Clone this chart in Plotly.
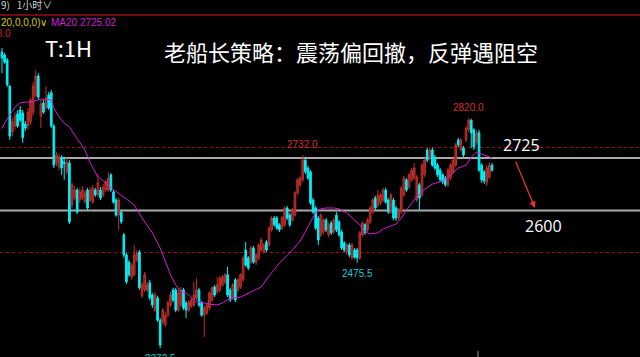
import plotly.graph_objects as go

# ---- data (prices) ----
opens = [2977,2970,2958,2896,2787,2801,2830,2839,2832,2806,2801,2811,2834,2873,2920,2825,2856,2844,2875,2880,
         2801,2713,2704,2727,2715,2692,2713,2613,2630,2649,2625,2630,2620,2649,2625,2620,2649,2637,2649,2637,
         2649,2649,2685,2644,2625,2589,2596,2542,2494,2477,2442,2447,2482,2501,2397,2411,2411,2428,2399,2363,
         2392,2339,2335,2328,2351,2375,2411,2411,2363,2375,2411,2380,2363,2373,2375,2392,2411,2380,2351,2356,
         2368,2387,2418,2406,2411,2423,2430,2447,2411,2392,2435,2411,2418,2435,2506,2487,2477,2511,2477,2487,
         2506,2501,2525,2518,2554,2582,2582,2566,2558,2566,2606,2589,2577,2589,2642,2661,2673,2720,2701,2692,
         2625,2606,2582,2542,2549,2577,2542,2570,2549,2589,2573,2549,2523,2501,2518,2487,2506,2506,2487,2542,
         2566,2554,2573,2596,2630,2613,2618,2625,2649,2625,2596,2625,2606,2582,2596,2637,2673,2656,2673,2677,
         2625,2661,2637,2685,2744,2725,2744,2727,2708,2696,2685,2677,2661,2677,2692,2708,2768,2744,2749,2768,
         2792,2815,2792,2761,2785,2708,2692,2666,2680,2708]
highs = [2987,2975,2963,2899,2820,2834,2839,2849,2839,2813,2844,2868,2906,2934,2927,2863,2863,2896,2882,2887,
         2806,2739,2735,2732,2725,2725,2720,2668,2658,2654,2654,2658,2649,2654,2656,2661,2654,2687,2656,2663,
         2673,2692,2689,2649,2630,2630,2601,2547,2499,2482,2475,2518,2506,2506,2430,2454,2430,2435,2404,2406,
         2397,2344,2368,2358,2387,2406,2416,2416,2416,2418,2416,2385,2387,2392,2430,2439,2416,2385,2373,2380,
         2408,2420,2423,2442,2444,2447,2451,2466,2416,2428,2439,2439,2451,2492,2525,2492,2516,2516,2499,2523,
         2535,2523,2530,2563,2587,2587,2587,2570,2587,2611,2611,2594,2606,2646,2677,2682,2732,2725,2706,2696,
         2630,2611,2587,2594,2582,2582,2570,2575,2582,2596,2577,2554,2527,2523,2523,2523,2511,2511,2551,2575,
         2570,2582,2611,2630,2635,2649,2642,2654,2654,2630,2642,2630,2611,2606,2658,2682,2677,2689,2701,2713,
         2685,2666,2713,2725,2749,2749,2749,2732,2713,2701,2689,2682,2701,2713,2725,2761,2773,2773,2754,2801,
         2820,2818,2796,2792,2792,2713,2696,2708,2715,2713]
lows = [2927,2949,2894,2768,2777,2792,2796,2811,2761,2789,2792,2804,2825,2868,2863,2796,2830,2839,2839,2796,
        2701,2706,2696,2685,2673,2685,2568,2606,2625,2592,2618,2625,2616,2601,2620,2616,2632,2632,2625,2632,
        2644,2644,2644,2616,2585,2554,2568,2487,2425,2442,2435,2442,2477,2411,2392,2406,2406,2387,2368,2358,
        2335,2272.5,2328,2323,2347,2370,2382,2358,2358,2370,2363,2344,2358,2368,2370,2387,2370,2347,2299,2351,
        2363,2382,2394,2401,2406,2418,2425,2394,2382,2387,2382,2406,2413,2430,2466,2458,2473,2473,2470,2482,
        2501,2497,2501,2513,2549,2561,2554,2549,2554,2561,2577,2561,2573,2585,2637,2656,2668,2687,2673,2613,
        2592,2554,2518,2537,2544,2549,2537,2542,2544,2549,2537,2506,2501,2494,2489,2482,2485,2475.5,2482,2537,
        2542,2549,2568,2592,2601,2608,2613,2620,2616,2592,2592,2577,2575,2577,2592,2632,2644,2651,2668,2673,
        2620,2601,2632,2680,2715,2720,2704,2696,2680,2668,2663,2656,2656,2673,2687,2704,2751,2739,2727,2763,
        2787,2749,2744,2756,2692,2666,2663,2658,2675,2692]
closes = [2963,2953,2899,2777,2811,2825,2801,2815,2773,2796,2834,2863,2896,2920,2870,2854,2834,2868,2844,2801,
          2708,2732,2727,2701,2711,2715,2573,2661,2649,2596,2644,2649,2642,2606,2649,2654,2637,2666,2630,2656,
          2668,2677,2649,2620,2589,2625,2573,2494,2430,2447,2470,2494,2499,2416,2423,2447,2423,2392,2375,2399,
          2339,2280,2363,2351,2380,2399,2387,2363,2404,2411,2368,2363,2382,2387,2399,2411,2375,2351,2368,2375,
          2404,2416,2399,2423,2439,2442,2447,2399,2387,2423,2387,2435,2447,2487,2470,2463,2511,2477,2494,2518,
          2530,2518,2506,2558,2582,2566,2558,2554,2582,2606,2582,2566,2601,2642,2673,2677,2720,2692,2677,2618,
          2596,2558,2530,2589,2577,2554,2566,2547,2577,2554,2542,2511,2506,2518,2494,2518,2489,2487,2547,2570,
          2547,2577,2606,2625,2606,2637,2637,2649,2620,2596,2637,2582,2582,2601,2654,2677,2649,2685,2696,2701,
          2680,2630,2708,2720,2720,2744,2708,2701,2685,2673,2668,2661,2696,2708,2720,2756,2756,2768,2732,2796,
          2815,2785,2751,2785,2696,2673,2670,2701,2708,2696]

ma_idx = [0,1,3,5,7,9,11,13,15,17,19,20,22,24,26,28,30,32,34,37,40,43,47,51,54,58,61,63,65,67,69,71,73,75,78,
          80,83,85,87,89,92,96,100,103,107,111,115,118,120,121,123,125,128,130,133,135,138,140,142,145,147,150,
          152,154,156,159,162,166,170,173,176,179,181,183,186,189]
ma_val = [2795,2808,2827,2846,2856,2858,2858,2861,2865,2865,2863,2844,2823,2808,2799,2780,2763,2744,2713,2680,
          2666,2649,2632,2613,2582,2547,2511,2480,2447,2423,2406,2404,2394,2382,2380,2377,2375,2380,2387,2392,
          2394,2406,2418,2444,2475,2499,2527,2561,2585,2596,2604,2606,2606,2604,2594,2582,2566,2549,2544,2547,
          2556,2563,2568,2582,2601,2625,2646,2663,2670,2685,2701,2708,2727,2739,2732,2725.02]

levels = [2725, 2600]
level_labels = ["2725", "2600"]
grid_levels = [2750, 2500]
extreme_idx = [180, 116, 137, 61]
extreme_val = [2820.0, 2732.0, 2475.5, 2272.5]
extreme_txt = ["2820.0", "2732.0", "2475.5", "2272.5"]

W, H = 640, 357
n = len(closes)
step = 490 / (n - 1)
x = list(range(n))

fig = go.Figure()
fig.add_trace(go.Candlestick(
    x=x, open=opens, high=highs, low=lows, close=closes,
    increasing=dict(line=dict(color="#c0302b", width=1), fillcolor="#8a1f1b"),
    decreasing=dict(line=dict(color="#00f0f8", width=1), fillcolor="#00f0f8"),
    whiskerwidth=0, showlegend=False, hoverinfo="skip"))
fig.add_trace(go.Scatter(x=ma_idx, y=ma_val, mode="lines",
                         line=dict(color="#d21fd2", width=1), showlegend=False, hoverinfo="skip"))

shapes = []
for lv in grid_levels:
    shapes.append(dict(type="line", xref="paper", x0=0, x1=1, yref="y", y0=lv, y1=lv,
                       line=dict(color="#9a1414", width=1, dash="dot"), layer="below"))
for lv in levels:
    shapes.append(dict(type="line", xref="paper", x0=0, x1=1, yref="y", y0=lv, y1=lv,
                       line=dict(color="#a9a9a9", width=2), layer="below"))
shapes.append(dict(type="line", xref="paper", x0=0, x1=1, yref="paper", y0=1 - 15/H, y1=1 - 15/H,
                   line=dict(color="#6e0c0c", width=2)))
shapes.append(dict(type="line", xref="paper", x0=478/W, x1=478/W, yref="paper", y0=0, y1=6/H,
                   line=dict(color="#9a9a9a", width=1)))

ann = []
def ptxt(px, py, text, size, color, font="Noto Sans CJK SC", xanchor="left"):
    ann.append(dict(xref="paper", yref="paper", x=px / W, y=1 - py / H, text=text, showarrow=False,
                    xanchor=xanchor, yanchor="middle", font=dict(size=size, color=color, family=font)))

ptxt(-1, 5, "9)&nbsp;&nbsp;&nbsp;1小时∨", 10, "#cfcfcf", "Noto Sans CJK SC")
ptxt(-1, 22, "20,0,0,0)∨", 10, "#d8c800", "Liberation Sans")
ptxt(49, 22, "MA20 2725.02", 10, "#d21fd2", "Liberation Sans")
ptxt(13, 33, "2988.0", 10, "#c02828", "Liberation Sans", xanchor="right")
ptxt(43, 47, "T:1H", 22, "#ffffff")
ptxt(162, 51, "老船长策略：震荡偏回撤，反弹遇阻空", 22, "#ffffff")
ptxt(501, 145, level_labels[0], 16, "#ffffff", "Open Sans")
ptxt(523, 226, level_labels[1], 16, "#ffffff", "Open Sans")

for i, (xi, yv, t) in enumerate(zip(extreme_idx, extreme_val, extreme_txt)):
    up = i < 2
    ann.append(dict(xref="x", yref="y", x=xi, y=yv, text=t, showarrow=False,
                    yanchor="bottom" if up else "top", yshift=3 if up else -3,
                    font=dict(size=10, color="#d23030" if up else "#19c8d2", family="Liberation Sans")))

ann.append(dict(xref="paper", yref="paper", x=535 / W, y=1 - 208 / H, ax=-20, ay=-48,
                text="", showarrow=True, arrowhead=2, arrowsize=1, arrowwidth=1.3, arrowcolor="#e8342c"))

fig.update_layout(
    width=W, height=H, margin=dict(l=0, r=0, t=0, b=0),
    paper_bgcolor="#000000", plot_bgcolor="#000000",
    xaxis=dict(range=[-2 / step, (W - 2) / step], visible=False, rangeslider=dict(visible=False), fixedrange=True),
    yaxis=dict(range=[3101 - 2.38 * H, 3101], visible=False, fixedrange=True),
    shapes=shapes, annotations=ann, boxgap=0.1, dragmode=False)

fig.write_html("out.html", config={"displayModeBar": False})
